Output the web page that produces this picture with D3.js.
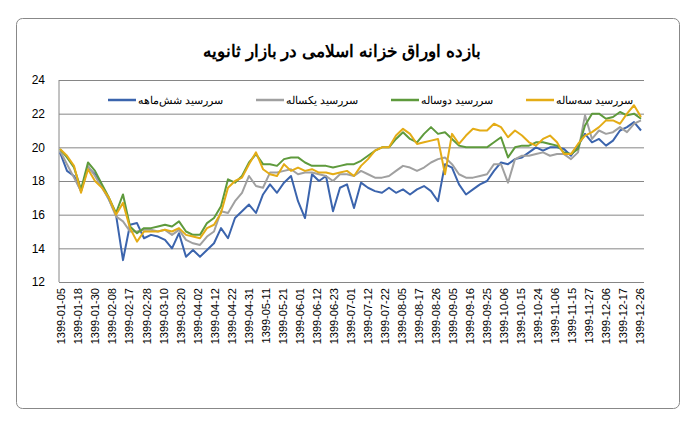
<!DOCTYPE html>
<html><head><meta charset="utf-8">
<script src="https://cdn.jsdelivr.net/npm/d3@7"></script>
<style>body{margin:0;background:#fff}</style>
</head><body>
<svg id="chart"></svg>
<script>
const tickLabels = ["1399-01-05","1399-01-18","1399-01-30","1399-02-08","1399-02-17","1399-02-28","1399-03-10","1399-03-20","1399-04-02","1399-04-12","1399-04-22","1399-04-31","1399-05-11","1399-05-21","1399-06-01","1399-06-12","1399-06-23","1399-07-01","1399-07-12","1399-07-22","1399-08-05","1399-08-17","1399-08-26","1399-09-05","1399-09-16","1399-09-25","1399-10-06","1399-10-15","1399-10-24","1399-11-06","1399-11-15","1399-11-27","1399-12-06","1399-12-17","1399-12-26"];

const sixMonth = [19.7,18.6,18.3,17.4,18.8,18.4,17.7,16.9,16.0,13.3,15.4,15.5,14.6,14.8,14.7,14.5,14.0,14.9,13.5,13.9,13.5,13.9,14.3,15.2,14.6,15.8,16.2,16.6,16.1,17.2,17.8,17.3,17.9,18.3,16.8,15.8,18.4,18.0,18.3,16.2,17.6,17.8,16.4,17.9,17.6,17.4,17.3,17.6,17.3,17.5,17.2,17.5,17.7,17.4,16.8,19.0,18.8,17.8,17.2,17.5,17.8,18.0,18.6,19.1,19.0,19.3,19.4,19.7,20.0,19.8,20.0,20.0,19.9,19.5,20.1,20.8,20.3,20.5,20.1,20.4,21.0,21.2,21.5,21.0];
const oneYear = [19.8,19.0,18.2,17.4,18.9,18.3,17.6,16.9,15.9,15.6,15.0,15.0,15.1,15.1,15.0,15.1,14.8,15.1,14.5,14.3,14.2,14.7,15.0,16.2,16.1,16.8,17.3,18.3,17.7,17.6,18.5,18.5,18.6,18.7,18.4,18.5,18.5,18.4,18.3,18.0,18.4,18.4,18.3,18.6,18.4,18.2,18.2,18.3,18.6,18.9,18.8,18.6,18.8,19.1,19.3,19.4,19.0,18.4,18.2,18.2,18.3,18.4,19.0,19.0,17.9,19.3,19.5,19.5,19.6,19.7,19.5,19.6,19.6,19.3,19.7,21.9,20.5,21.0,20.8,20.9,21.2,20.9,21.4,21.6];
const twoYear = [19.9,19.4,18.8,17.5,19.1,18.6,17.8,17.0,16.1,17.2,15.3,14.9,15.2,15.2,15.3,15.4,15.3,15.6,15.0,14.8,14.8,15.5,15.8,16.5,18.1,17.9,18.3,19.1,19.6,19.0,19.0,18.9,19.3,19.4,19.4,19.1,18.9,18.9,18.9,18.8,18.9,19.0,19.0,19.2,19.5,19.8,20.0,20.0,20.5,20.9,20.5,20.3,20.8,21.2,20.8,20.9,20.5,20.1,20.0,20.0,20.0,20.0,20.3,20.6,19.4,20.0,20.1,20.1,20.3,20.3,20.2,20.1,19.7,19.6,19.9,21.3,22.0,22.0,21.7,21.8,22.1,21.9,22.0,21.7];
const threeYear = [19.9,19.5,18.9,17.3,18.7,18.0,17.6,17.0,16.0,16.7,15.2,14.4,15.0,15.0,15.0,15.1,15.0,15.2,14.8,14.7,14.6,15.2,15.4,16.1,17.6,18.0,18.2,19.0,19.7,18.7,18.4,18.3,19.0,18.6,18.8,18.6,18.7,18.5,18.5,18.4,18.5,18.6,18.3,18.9,19.3,19.8,20.0,20.0,20.7,21.1,20.8,20.2,20.3,20.4,20.5,18.4,20.8,20.2,20.7,21.1,21.0,21.0,21.4,21.2,20.6,21.0,20.7,20.3,20.1,20.5,20.7,20.3,19.6,19.6,20.2,20.7,20.9,21.2,21.6,21.6,21.4,22.0,22.5,21.8];

const seriesNames = ["سررسید شش‌ماهه","سررسید یکساله","سررسید دوساله","سررسید سه‌ساله"];
const seriesColors = ["#3b64ad","#a0a0a0","#5e9a3c","#e4ac16"];
const yTicks = [12,14,16,18,20,22,24];

const width = 697, height = 429;
const marginLeft = 59, marginRight = 53, marginTop = 80, marginBottom = 147;

const svg = d3.select("#chart").attr("width", width).attr("height", height)
  .style("font-family", "Arial, 'Liberation Sans', sans-serif");

svg.append("rect").attr("x", 16.5).attr("y", 18.5).attr("width", 663).attr("height", 390)
  .attr("rx", 6).attr("fill", "#fff").attr("stroke", "#888");

svg.append("text").attr("x", 342).attr("y", 57).attr("text-anchor", "middle")
  .attr("font-size", 17).attr("font-weight", "bold").attr("direction", "rtl")
  .text("بازده اوراق خزانه اسلامی در بازار ثانویه");

const all = [sixMonth, oneYear, twoYear, threeYear];
const x = d3.scaleLinear().domain([0, sixMonth.length - 1]).range([marginLeft + 1, width - marginRight - 3]);
const y = d3.scaleLinear().domain([12, 24]).range([height - marginBottom, marginTop]);
const xt = d3.scalePoint().domain(tickLabels).range([marginLeft + 2, width - marginRight - 4]);

// gridlines + y axis
svg.append("g").attr("transform", `translate(${marginLeft},0)`)
  .call(d3.axisLeft(y).tickValues(yTicks).tickSize(0).tickPadding(14))
  .call(g => g.select(".domain").remove())
  .call(g => g.selectAll(".tick line").clone().attr("x2", width - marginLeft - marginRight).attr("stroke", "#868686"))
  .call(g => g.selectAll("text").attr("font-size", 12).attr("fill", "#000").attr("font-family", "Arial, 'Liberation Sans', sans-serif"));

svg.append("line").attr("x1", marginLeft).attr("x2", marginLeft)
  .attr("y1", marginTop).attr("y2", height - marginBottom).attr("stroke", "#868686");

// x axis labels
svg.append("g").attr("transform", `translate(0,${height - marginBottom})`)
  .call(d3.axisBottom(xt).tickSize(0).tickPadding(0))
  .call(g => g.select(".domain").attr("stroke", "#868686"))
  .call(g => g.selectAll("text").attr("font-size", 11).attr("fill", "#000")
    .attr("font-family", "Arial, 'Liberation Sans', sans-serif")
    .attr("text-anchor", "end").attr("dy", "0.35em")
    .attr("transform", "translate(0,6) rotate(-90)"));

const line = d3.line().x((d, i) => x(i)).y(d => y(d));
all.forEach((s, k) => {
  svg.append("path").attr("fill", "none").attr("stroke", seriesColors[k])
    .attr("stroke-width", 2).attr("stroke-linejoin", "round").attr("d", line(s));
});

// legend
const legendX = [108, 256, 391, 526];
seriesNames.forEach((n, k) => {
  const g = svg.append("g").attr("transform", `translate(${legendX[k]},100)`);
  g.append("line").attr("x1", 0).attr("x2", 28).attr("stroke", seriesColors[k]).attr("stroke-width", 2.5);
  g.append("text").attr("x", 30).attr("dy", "0.35em").attr("font-size", 11).attr("direction", "rtl")
    .attr("text-anchor", "end").text(n);
});
</script>
</body></html>
